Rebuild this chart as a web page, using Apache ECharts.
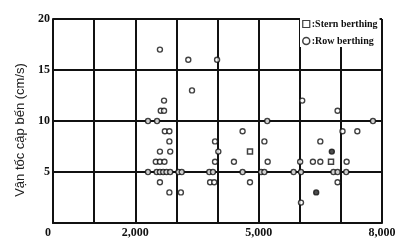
<!DOCTYPE html>
<html>
<head>
<meta charset="utf-8">
<script src="https://cdn.jsdelivr.net/npm/echarts@6/dist/echarts.min.js"></script>
<style>
html,body{margin:0;padding:0;background:#fff;}
#chart{width:419px;height:246px;}
</style>
</head>
<body>
<div id="chart"></div>
<script>
// Displacement-like x values (0..8000) and berthing velocity (cm/s)
var xTickLabels = [0, 2000, 5000, 8000];
var yTitle = 'Vận tốc cập bến (cm/s)';
var seriesNames = ['Stern berthing', 'Row berthing'];

var bowX = [2600, 2700, 2620, 2700, 2310, 2530, 2720, 2830, 2830, 2600, 2850, 2500, 2600, 2710,
  2310, 2520, 2600, 2680, 2760, 2850, 3050, 3130, 2600, 2830, 3110,
  3290, 3380, 3990,
  3800, 3890, 3820, 3920, 3940, 4020, 3940, 4400, 4610, 4610, 4790, 5210, 5140, 5220, 5060, 5140,
  5850, 6010, 6030, 6060, 6030, 6320, 6500, 6500, 6920, 7040, 7400, 7780, 7140, 6820, 6920, 7130, 6920];
var bowY = [17, 12, 11, 11, 10, 10, 9, 9, 8, 7, 7, 6, 6, 6,
  5, 5, 5, 5, 5, 5, 5, 5, 4, 3, 3,
  16, 13, 16,
  5, 5, 4, 4, 8, 7, 6, 6, 9, 5, 4, 10, 8, 6, 5, 5,
  5, 6, 5, 12, 2, 6, 6, 8, 11, 9, 9, 10, 6, 5, 5, 5, 4];

var bowDarkX = [6780, 6400];
var bowDarkY = [7, 3];

var sternX = [4790, 6760];
var sternY = [7, 6];

function pairs(xs, ys) { return xs.map(function (x, i) { return [x, ys[i]]; }); }

var chart = echarts.init(document.getElementById('chart'), null, {renderer: 'canvas'});
var labelFont = {fontFamily: 'Liberation Serif', fontWeight: 'bold', fontSize: 12, color: '#111'};
var lineStyle = {color: '#111', width: 2};

chart.setOption({
  animation: false,
  backgroundColor: '#fff',
  grid: {left: 53, right: 37, top: 19, bottom: 23, containLabel: false},
  legend: {
    orient: 'vertical',
    left: 300, top: 18,
    itemWidth: 7, itemHeight: 7, itemGap: 7,
    padding: [1, 2],
    backgroundColor: '#fff',
    data: [
      {name: seriesNames[0], icon: 'rect', itemStyle: {borderWidth: 1.2}},
      {name: seriesNames[1], icon: 'circle', itemStyle: {borderWidth: 1.5}}
    ],
    formatter: function (n) { return ':' + n; },
    textStyle: {fontFamily: 'Liberation Serif', fontWeight: 'bold', fontSize: 10, color: '#111', padding: [0, 0, 0, -3]}
  },
  xAxis: {
    type: 'value', min: 0, max: 8000, interval: 1000,
    axisLine: {show: true, onZero: false, lineStyle: lineStyle},
    axisTick: {show: false},
    splitLine: {show: true, lineStyle: lineStyle},
    axisLabel: Object.assign({
      margin: 4,
      formatter: function (v) {
        if (v === 0) return '{z|0}';
        return xTickLabels.indexOf(v) >= 0 ? v.toLocaleString('en-US') : '';
      },
      rich: {z: {fontFamily: 'Liberation Serif', fontWeight: 'bold', fontSize: 12, color: '#111', padding: [0, 10, 0, 0]}}
    }, labelFont)
  },
  yAxis: {
    type: 'value', min: 0, max: 20, interval: 5,
    name: yTitle, nameLocation: 'middle', nameGap: 19,
    nameTextStyle: {fontFamily: 'Liberation Sans', fontSize: 13, color: '#222', padding: [0, 18, 0, 0]},
    axisLine: {show: true, lineStyle: lineStyle},
    axisTick: {show: false},
    splitLine: {show: true, lineStyle: lineStyle},
    axisLabel: Object.assign({
      margin: 3,
      formatter: function (v) { return v === 0 ? '' : String(v); }
    }, labelFont)
  },
  series: [
    {
      name: seriesNames[0], type: 'scatter', symbol: 'rect', symbolSize: 5,
      itemStyle: {color: '#fff', borderColor: '#111', borderWidth: 1.5},
      data: pairs(sternX, sternY), z: 5
    },
    {
      name: seriesNames[1], type: 'scatter', symbol: 'circle', symbolSize: 5,
      itemStyle: {color: '#fff', borderColor: '#111', borderWidth: 1.4},
      data: pairs(bowX, bowY), z: 5
    },
    {
      name: seriesNames[1], type: 'scatter', symbol: 'circle', symbolSize: 5,
      itemStyle: {color: '#222', borderColor: '#111', borderWidth: 1.4},
      data: pairs(bowDarkX, bowDarkY), z: 5
    }
  ]
});
</script>
</body>
</html>
